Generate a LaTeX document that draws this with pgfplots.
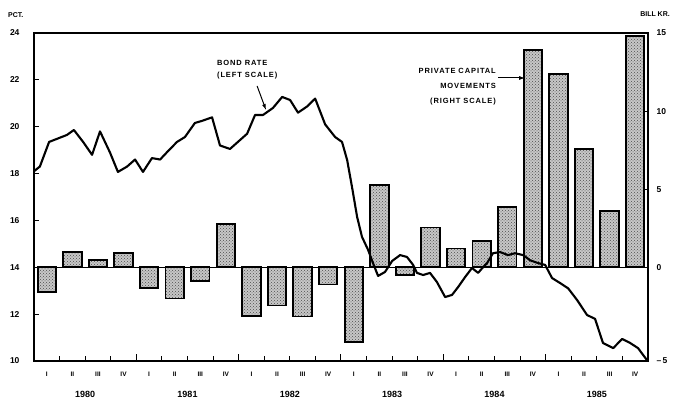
\documentclass[border=0pt]{standalone}
\usepackage{pgfplots}
\pgfplotsset{compat=1.18}
\usepackage{fontspec}
\setmainfont{Liberation Sans}
\newfontfamily\annfont[LetterSpace=12]{Liberation Sans}
\usetikzlibrary{patterns,arrows.meta}

\pgfplotstableread{
x   v
0.5  -1.6
1.5  1.0
2.5  0.45
3.5  0.9
4.5  -1.3
5.5  -2.0
6.5  -0.9
7.5  2.75
8.5  -3.1
9.5  -2.45
10.5 -3.15
11.5 -1.1
12.5 -4.8
13.5 5.25
14.5 -0.5
15.5 2.55
16.5 1.2
17.5 1.7
18.5 3.85
19.5 13.9
20.5 12.4
21.5 7.55
22.5 3.6
23.5 14.8
}\capital

\pgfplotstableread{
x     r
0.00  18.10
0.23  18.30
0.59  19.35
0.94  19.50
1.29  19.65
1.56  19.86
1.92  19.35
2.27  18.80
2.58  19.80
2.97  18.90
3.28  18.07
3.64  18.30
3.95  18.60
4.26  18.07
4.61  18.66
4.93  18.60
5.24  18.96
5.59  19.35
5.90  19.56
6.29  20.16
6.57  20.25
6.96  20.40
7.27  19.20
7.66  19.05
7.97  19.35
8.33  19.70
8.64  20.50
8.95  20.50
9.34  20.80
9.70  21.27
10.01 21.14
10.32 20.60
10.67 20.86
10.99 21.20
11.38 20.10
11.77 19.56
12.04 19.35
12.24 18.58
12.43 17.43
12.63 16.15
12.82 15.30
13.06 14.74
13.25 14.18
13.45 13.63
13.72 13.80
14.00 14.27
14.31 14.52
14.58 14.44
14.82 14.10
14.97 13.76
15.21 13.67
15.48 13.76
15.75 13.37
16.07 12.73
16.34 12.82
16.58 13.16
16.85 13.58
17.12 13.97
17.36 13.76
17.55 14.00
17.71 14.18
17.94 14.60
18.22 14.65
18.53 14.52
18.80 14.60
19.12 14.52
19.39 14.30
19.70 14.18
19.98 14.10
20.25 13.54
20.56 13.33
20.88 13.10
21.23 12.60
21.62 11.96
21.93 11.80
22.24 10.77
22.64 10.55
22.99 10.94
23.30 10.77
23.61 10.55
23.96 10.04
}\bond

\begin{document}
\begin{tikzpicture}
\useasboundingbox (-34pt,-40pt) rectangle (639pt,361pt);
% right scale: private capital movements (bars)
\begin{axis}[
  scale only axis, width=614pt, height=328pt,
  xmin=0, xmax=24, ymin=-6, ymax=15,
  axis line style={line width=1.3pt},
  ytick={-6,0,5,10,15}, yticklabels={{--\,5},0,5,10,15},
  ytick pos=right, yticklabel pos=right,
  tick align=inside, major tick length=5pt,
  every tick/.style={line width=1pt, black},
  xtick={0.5,1.5,...,23.5},
  xticklabels={I,II,III,IV,I,II,III,IV,I,II,III,IV,I,II,III,IV,I,II,III,IV,I,II,III,IV},
  xtick pos=bottom,
  xtick style={draw=none},
  /pgf/number format/assume math mode=true,
  yticklabel style={font=\bfseries\fontsize{8.5}{10}\selectfont, xshift=5pt},
  xticklabel style={font=\bfseries\fontsize{6.5}{8}\selectfont, yshift=-7pt},
  clip=false,
]
\addplot[ybar, bar width=0.72, line width=1.9pt, draw=black, fill=black!22,
  postaction={pattern=crosshatch dots, pattern color=black!70}]
  table[x=x, y=v] {\capital};
\addplot[black, line width=1.5pt] coordinates {(0,0) (24,0)};
\foreach \yr/\xc in {1980/2,1981/6,1982/10,1983/14,1984/18,1985/22}{
  \edef\tmp{\noexpand\node[font=\noexpand\bfseries\noexpand\fontsize{9}{10}\noexpand\selectfont] at (axis cs:\xc,-6) [yshift=-33pt] {\yr};}
  \tmp
}
\end{axis}
% left scale: bond rate (line)
\begin{axis}[
  scale only axis, width=614pt, height=328pt,
  xmin=0, xmax=24, ymin=10, ymax=24,
  axis line style={line width=1.3pt},
  ytick={10,12,...,24}, ytick pos=left,
  tick align=inside, major tick length=5pt,
  every tick/.style={line width=1pt, black},
  xtick={1,2,...,23}, xticklabels={}, xtick pos=bottom,
  extra x ticks={4,8,12,16,20}, extra x tick labels={},
  extra x tick style={major tick length=7pt},
  /pgf/number format/assume math mode=true,
  yticklabel style={font=\bfseries\fontsize{8.5}{10}\selectfont, xshift=-11pt},
  clip=false,
]
\addplot[black, line width=2.1pt, line join=round] table[x=x, y=r] {\bond};
\node[anchor=base west, font=\annfont\bfseries\fontsize{7.5}{9}\selectfont, inner sep=0pt]
  at (axis cs:7.15,22.63) {BOND RATE};
\node[anchor=base west, font=\annfont\bfseries\fontsize{7.5}{9}\selectfont, inner sep=0pt]
  at (axis cs:7.15,22.08) {(LEFT SCALE)};
\draw[line width=1pt, -{Latex[length=6pt,width=4pt]}] (axis cs:8.72,21.74) -- (axis cs:9.07,20.71);
\node[anchor=base east, font=\annfont\bfseries\fontsize{7.5}{9}\selectfont, inner sep=0pt]
  at (axis cs:18.06,22.25) {PRIVATE CAPITAL};
\node[anchor=base east, font=\annfont\bfseries\fontsize{7.5}{9}\selectfont, inner sep=0pt]
  at (axis cs:18.06,21.65) {MOVEMENTS};
\node[anchor=base east, font=\annfont\bfseries\fontsize{7.5}{9}\selectfont, inner sep=0pt]
  at (axis cs:18.06,21.01) {(RIGHT SCALE)};
\draw[line width=1pt, -{Latex[length=6pt,width=4pt]}] (axis cs:18.14,22.08) -- (axis cs:19.2,22.08);
\end{axis}
\node[anchor=west, font=\bfseries\fontsize{7}{8}\selectfont, inner sep=0pt] at (-26pt,346pt) {PCT.};
\node[anchor=east, font=\bfseries\fontsize{7}{8}\selectfont, inner sep=0pt] at (636pt,347pt) {BILL KR.};
\end{tikzpicture}
\end{document}
